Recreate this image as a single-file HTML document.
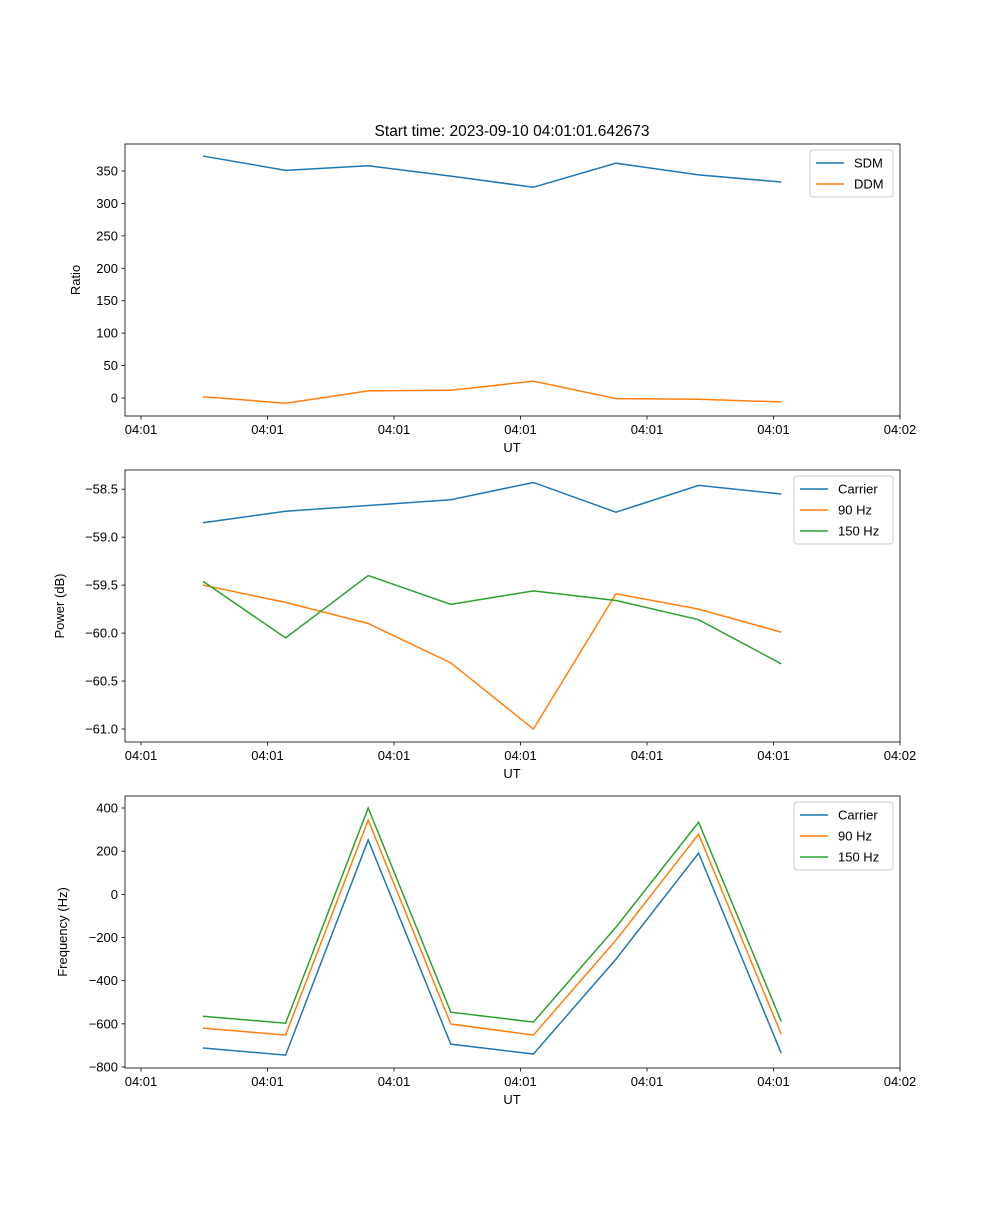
<!DOCTYPE html>
<html><head><meta charset="utf-8"><style>
body{margin:0;background:#fff;font-family:"Liberation Sans",sans-serif}
svg text{font-family:"Liberation Sans","DejaVu Sans",sans-serif;font-size:13px;fill:#000}
</style></head><body>
<svg id="fig" width="1000" height="1200" viewBox="0 0 1000 1200" xmlns="http://www.w3.org/2000/svg">
<rect width="1000" height="1200" fill="#fff"/>
<text x="512" y="136" text-anchor="middle" style="font-size:15.5px">Start time: 2023-09-10 04:01:01.642673</text>
</svg>
<script>
const xTickVals=[0,1,2,3,4,5,6];
const xTickLabels=["04:01","04:01","04:01","04:01","04:01","04:01","04:02"];
const times=[0.49,1.143,1.796,2.449,3.102,3.755,4.408,5.061];
const sdm=[373,351,358,342,325,362,344,333];
const ddm=[2,-8,11,12,26,-1,-2,-6];
const pCarrier=[-58.85,-58.73,-58.67,-58.61,-58.43,-58.74,-58.46,-58.55];
const p90=[-59.50,-59.68,-59.90,-60.31,-61.0,-59.59,-59.75,-59.99];
const p150=[-59.46,-60.05,-59.40,-59.70,-59.56,-59.66,-59.86,-60.32];
const fCarrier=[-712,-745,252,-694,-740,-300,191,-736];
const f90=[-620,-652,344,-601,-652,-212,279,-648];
const f150=[-565,-597,400,-546,-592,-152,334,-588];
const ticks1=[0,50,100,150,200,250,300,350];
const ticks2=[-61.0,-60.5,-60.0,-59.5,-59.0,-58.5];
const ticks3=[-800,-600,-400,-200,0,200,400];
const C={b:"#1f77b4",o:"#ff7f0e",g:"#2ca02c"};
const svg=document.getElementById('fig');
const NS="http://www.w3.org/2000/svg";
function mk(tag,attrs,parent){const e=document.createElementNS(NS,tag);for(const k in attrs)e.setAttribute(k,attrs[k]);(parent||svg).appendChild(e);return e;}
const L=125,R=900,W=R-L;
const xs=t=>141+t*126.5;
function panel(top,ymin,ymax,yticks,fmt,ylabel,series,legend,name){
  const bot=top+272;
  const g=mk('g',{});
  
  
  const ys=v=>bot-(v-ymin)/(ymax-ymin)*272;
  series.forEach(s=>{
    const p=mk('polyline',{points:s.d.map((v,i)=>xs(times[i])+','+ys(v)).join(' '),fill:'none',stroke:s.c,'stroke-width':1.5},g);
    
    
  });
  const fr=mk('rect',{x:L,y:top,width:W,height:272,fill:'none',stroke:'#000','stroke-width':0.8},g);
  
  
  xTickVals.forEach((t,i)=>{
    mk('line',{x1:xs(t),x2:xs(t),y1:bot,y2:bot+3.5,stroke:'#000','stroke-width':0.8},g);
    const tx=mk('text',{x:xs(t),y:bot+18,'text-anchor':'middle'},g);tx.textContent=xTickLabels[i];
    
    
  });
  yticks.forEach(v=>{
    mk('line',{x1:L-3.5,x2:L,y1:ys(v),y2:ys(v),stroke:'#000','stroke-width':0.8},g);
    const tx=mk('text',{x:L-7,y:ys(v)+4.5,'text-anchor':'end'},g);tx.textContent=fmt(v);
    
    
  });
  const xl=mk('text',{x:512,y:bot+36,'text-anchor':'middle'},g);xl.textContent='UT';
  
  
  const yl=mk('text',{x:0,y:0,'text-anchor':'middle',transform:`translate(${legend.yx},${top+136}) rotate(-90)`},g);yl.textContent=ylabel;
  
  
  const lg=mk('g',{},g);
  
  
  const lh=series.length*21+5;
  mk('rect',{x:legend.x,y:top+6,width:R-7-legend.x,height:lh,rx:3,fill:'#fff',stroke:'#ccc'},lg);
  series.forEach((s,i)=>{
    const yy=top+19+i*21;
    mk('line',{x1:legend.x+6,x2:legend.x+34,y1:yy,y2:yy,stroke:s.c,'stroke-width':1.5},lg);
    const t=mk('text',{x:legend.x+44,y:yy+4.5},lg);t.textContent=s.n;
    
    
  });
}
panel(144,-27.75,391.6,ticks1,v=>String(v),'Ratio',[{n:'SDM',c:C.b,d:sdm},{n:'DDM',c:C.o,d:ddm}],{x:810,yx:80},'ratio-panel');
panel(470,-61.135,-58.30,ticks2,v=>(v<0?'−':'')+Math.abs(v).toFixed(1),'Power (dB)',[{n:'Carrier',c:C.b,d:pCarrier},{n:'90 Hz',c:C.o,d:p90},{n:'150 Hz',c:C.g,d:p150}],{x:794,yx:64},'power-panel');
panel(796,-804.6,455.6,ticks3,v=>(v<0?'−':'')+Math.abs(v),'Frequency (Hz)',[{n:'Carrier',c:C.b,d:fCarrier},{n:'90 Hz',c:C.o,d:f90},{n:'150 Hz',c:C.g,d:f150}],{x:794,yx:67},'frequency-panel');
</script>
</body></html>
